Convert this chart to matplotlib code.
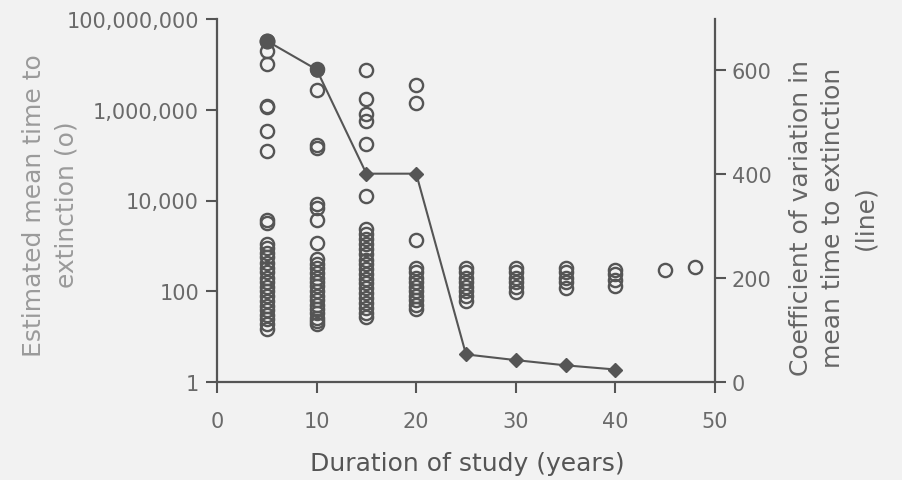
import matplotlib
matplotlib.use("Agg")
import matplotlib.pyplot as plt
from matplotlib.ticker import NullLocator, FixedLocator

# ---------------- data ----------------
# Estimated mean time to extinction (circles), grouped by study duration (years)
mte_5 = [32000000, 19500000, 10000000, 1240000, 1140000, 340000, 123000,
         3800, 3250, 1080, 900, 700, 560, 430, 330, 260, 200, 160, 125,
         100, 78, 62, 48, 38, 30, 24, 19, 15]
mte_10 = [8000000, 2700000, 170000, 146000, 8200, 6950, 3800, 1170,
          505, 400, 320, 250, 200, 160, 130, 100, 80, 64, 50, 40, 33, 26, 22, 19]
mte_15 = [7700000, 1700000, 790000, 560000, 173000, 12500,
          2300, 1800, 1400, 1100, 850, 650, 500, 400, 310, 240, 190, 150,
          115, 90, 70, 55, 43, 34, 27]
mte_20 = [3600000, 1430000, 1380, 330, 260, 200, 160, 125, 100, 80, 63, 50, 40]
mte_25 = [330, 260, 200, 160, 125, 100, 80, 62]
mte_30 = [330, 260, 200, 160, 125, 95]
mte_35 = [330, 260, 200, 160, 120]
mte_40 = [300, 240, 180, 130]
mte_45 = [300]
mte_48 = [350]

durations = [5, 10, 15, 20, 25, 30, 35, 40, 45, 48]
mte_groups = [mte_5, mte_10, mte_15, mte_20, mte_25, mte_30, mte_35, mte_40,
              mte_45, mte_48]

# Coefficient of variation in mean time to extinction (line)
cv_years = [5, 10, 15, 20, 25, 30, 35, 40]
cv_values = [655, 600, 400, 400, 53, 42, 32, 24]

left_ticks = [1, 100, 10000, 1000000, 100000000]
left_ticklabels = ["1", "100", "10,000", "1,000,000", "100,000,000"]
right_ticks = [0, 200, 400, 600]
x_ticks = [0, 10, 20, 30, 40, 50]

# ---------------- styling ----------------
plt.rcParams['font.family'] = ['DejaVu Sans']
ink = '#555555'
bg = '#f2f2f2'

W, H = 903, 481
fig = plt.figure(figsize=(W / 100, H / 100), dpi=100, facecolor=bg)
left_px, right_px, top_px, bottom_px = 217, 715, 20, 383
ax = fig.add_axes([left_px / W, 1 - bottom_px / H,
                   (right_px - left_px) / W, (bottom_px - top_px) / H])
ax.set_facecolor(bg)

# circles
for d, vals in zip(durations, mte_groups):
    ax.plot([d] * len(vals), vals, 'o', mfc='none', mec=ink, ms=9.5,
            mew=1.7, clip_on=False, zorder=3)

ax.set_yscale('log')
ax.set_ylim(1, 1e8)
ax.set_xlim(0, 50)
ax.yaxis.set_major_locator(FixedLocator(left_ticks))
ax.yaxis.set_minor_locator(NullLocator())
ax.set_yticklabels(left_ticklabels)
ax.set_xticks(x_ticks)

for s in ['top', 'right']:
    ax.spines[s].set_visible(False)
for s in ['left', 'bottom']:
    ax.spines[s].set_color(ink)
    ax.spines[s].set_linewidth(1.6)

ax.tick_params(axis='both', direction='out', length=8, width=1.5,
               color=ink, labelsize=15, labelcolor='#6a6a6a')
ax.tick_params(axis='x', pad=13)
ax.tick_params(axis='y', pad=5)

ax.set_xlabel("Duration of study (years)", fontsize=18, color='#555555')
ax.xaxis.set_label_coords(0.502, -0.19)
ax.set_ylabel("Estimated mean time to\nextinction (o)", fontsize=18,
              color='#9a9a9a', linespacing=1.45)
ax.yaxis.set_label_coords(-0.279, 0.49)

# right axis with CV line
ax2 = ax.twinx()
ax2.set_ylim(0, 697)
ax2.set_yticks(right_ticks)
for s in ['top', 'left', 'bottom']:
    ax2.spines[s].set_visible(False)
ax2.spines['right'].set_color(ink)
ax2.spines['right'].set_linewidth(1.6)
ax2.tick_params(axis='y', direction='out', length=8, width=1.5, color=ink,
                labelsize=15, labelcolor='#6a6a6a', pad=4)

ax2.plot(cv_years, cv_values, '-', color=ink, lw=1.5, zorder=4, clip_on=False)
marker_styles = ['o', 'o', 'D', 'D', 'D', 'D', 'D', 'D']
marker_sizes = [10.5, 9.5, 7, 7, 7, 7, 7, 7]
for xv, yv, m, s in zip(cv_years, cv_values, marker_styles, marker_sizes):
    ax2.plot([xv], [yv], m, color=ink, mfc=ink, mec=ink, ms=s, zorder=5,
             clip_on=False)

ax2.set_ylabel("Coefficient of variation in\nmean time to extinction\n(line)",
               fontsize=18, color='#666666', linespacing=1.45)
ax2.yaxis.set_label_coords(1.148, 0.455)

fig.savefig("out.png", dpi=100, facecolor=bg)
